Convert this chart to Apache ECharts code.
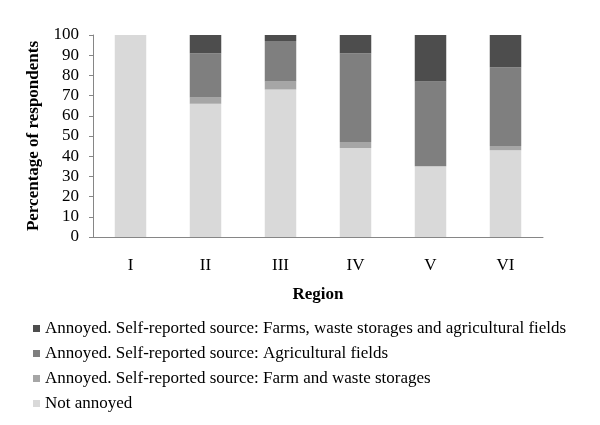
<!DOCTYPE html>
<html><head><meta charset="utf-8">
<script src="https://cdn.jsdelivr.net/npm/echarts@6/dist/echarts.min.js"></script>
<style>html,body{margin:0;padding:0;background:#fff}#c{width:600px;height:425px}</style>
</head><body><div id="c"></div>
<script>
var categories = ['I','II','III','IV','V','VI'];
var notAnnoyed = [100, 66, 73, 44, 35, 43];
var farmStorages = [0, 3, 4, 3, 0, 2];
var agriFields = [0, 22, 20, 44, 42, 39];
var allSources = [0, 9, 3, 9, 23, 16];
var yTicks = [0,10,20,30,40,50,60,70,80,90,100];

var names = [
  'Annoyed. Self-reported source: Farms, waste storages and agricultural fields',
  'Annoyed. Self-reported source: Agricultural fields',
  'Annoyed. Self-reported source: Farm and waste storages',
  'Not annoyed'
];
var font = 'Liberation Serif';
var chart = echarts.init(document.getElementById('c'));
function s(name, data, color){
  return {name:name, type:'bar', stack:'t', data:data, barCategoryGap:'58%',
    itemStyle:{color:color}, emphasis:{disabled:true}};
}
chart.setOption({
  animation:false,
  textStyle:{fontFamily:font},
  grid:{left:93, right:57, top:35, bottom:188},
  legend:{orient:'vertical', left:28, top:315, height:110, itemWidth:7, itemHeight:7, itemGap:8,
    icon:'rect', data:names, selectedMode:false,
    textStyle:{fontFamily:font, fontSize:17, color:'#000'}},
  xAxis:{type:'category', data:categories,
    name:'Region', nameLocation:'middle', nameGap:49,
    nameTextStyle:{fontFamily:font, fontWeight:'bold', fontSize:17, color:'#000'},
    axisLine:{lineStyle:{color:'#868686'}},
    axisTick:{length:5, lineStyle:{color:'#868686'}},
    axisLabel:{fontFamily:font, fontSize:17, color:'#000', margin:20}},
  yAxis:{type:'value', min:0, max:100, interval:10,
    name:'Percentage of respondents', nameLocation:'middle', nameGap:50,
    nameTextStyle:{fontFamily:font, fontWeight:'bold', fontSize:17, color:'#000'},
    axisLine:{show:true, lineStyle:{color:'#868686'}},
    axisTick:{show:true, length:4, lineStyle:{color:'#868686'}},
    splitLine:{show:false},
    axisLabel:{fontFamily:font, fontSize:17, color:'#000', margin:14,
      formatter:function(v){return yTicks.indexOf(v)>=0 ? String(v) : '';}}},
  series:[
    s(names[3], notAnnoyed, '#d9d9d9'),
    s(names[2], farmStorages, '#a6a6a6'),
    s(names[1], agriFields, '#7f7f7f'),
    s(names[0], allSources, '#4d4d4d')
  ]
});
</script></body></html>
